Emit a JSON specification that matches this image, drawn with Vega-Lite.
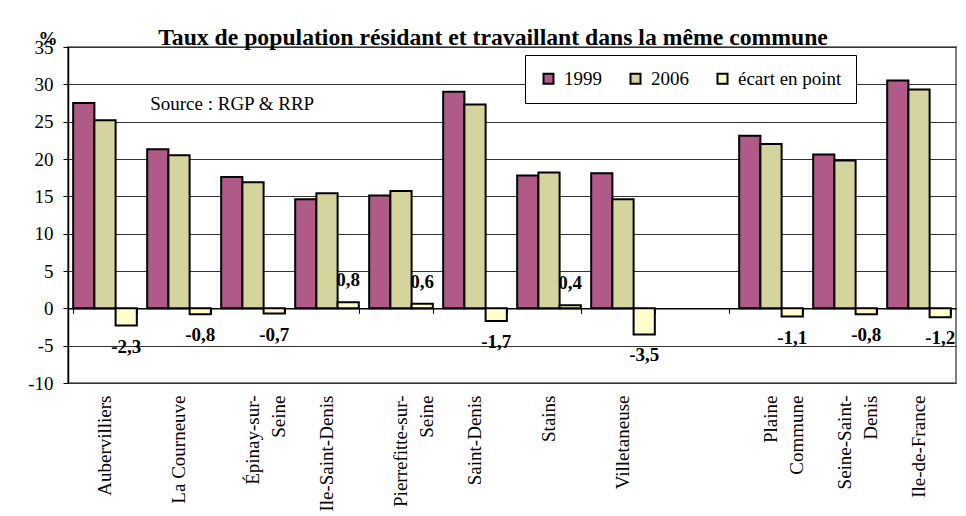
{
  "$schema": "https://vega.github.io/schema/vega-lite/v6.json",
  "width": 888,
  "height": 336,
  "autosize": {"type": "none"},
  "padding": {"left": 68, "top": 47, "right": 10, "bottom": 133},
  "background": "white",
  "title": {
    "text": "Taux de population résidant et travaillant dans la même commune",
    "font": "Liberation Serif", "fontSize": 23.7, "fontWeight": "bold", "color": "black",
    "anchor": "middle", "frame": "group", "dx": -19, "dy": 41, "offset": 1, "baseline": "alphabetic"
  },
  "config": {
    "font": "Liberation Serif",
    "view": {"stroke": "#808080", "strokeWidth": 2},
    "axisY": {"labelOverlap": false}
  },
  "data": {
    "values": [
      {"commune": "Aubervilliers", "serie": "1999", "value": 27.5},
      {"commune": "Aubervilliers", "serie": "2006", "value": 25.2},
      {"commune": "Aubervilliers", "serie": "écart en point", "value": -2.3},
      {"commune": "La Courneuve", "serie": "1999", "value": 21.3},
      {"commune": "La Courneuve", "serie": "2006", "value": 20.5},
      {"commune": "La Courneuve", "serie": "écart en point", "value": -0.8},
      {"commune": "Épinay-sur-Seine", "serie": "1999", "value": 17.6},
      {"commune": "Épinay-sur-Seine", "serie": "2006", "value": 16.9},
      {"commune": "Épinay-sur-Seine", "serie": "écart en point", "value": -0.7},
      {"commune": "Ile-Saint-Denis", "serie": "1999", "value": 14.6},
      {"commune": "Ile-Saint-Denis", "serie": "2006", "value": 15.4},
      {"commune": "Ile-Saint-Denis", "serie": "écart en point", "value": 0.8},
      {"commune": "Pierrefitte-sur-Seine", "serie": "1999", "value": 15.1},
      {"commune": "Pierrefitte-sur-Seine", "serie": "2006", "value": 15.7},
      {"commune": "Pierrefitte-sur-Seine", "serie": "écart en point", "value": 0.6},
      {"commune": "Saint-Denis", "serie": "1999", "value": 29.0},
      {"commune": "Saint-Denis", "serie": "2006", "value": 27.3},
      {"commune": "Saint-Denis", "serie": "écart en point", "value": -1.7},
      {"commune": "Stains", "serie": "1999", "value": 17.8},
      {"commune": "Stains", "serie": "2006", "value": 18.2},
      {"commune": "Stains", "serie": "écart en point", "value": 0.4},
      {"commune": "Villetaneuse", "serie": "1999", "value": 18.1},
      {"commune": "Villetaneuse", "serie": "2006", "value": 14.6},
      {"commune": "Villetaneuse", "serie": "écart en point", "value": -3.5},
      {"commune": "Plaine Commune", "serie": "1999", "value": 23.1},
      {"commune": "Plaine Commune", "serie": "2006", "value": 22.0},
      {"commune": "Plaine Commune", "serie": "écart en point", "value": -1.1},
      {"commune": "Seine-Saint-Denis", "serie": "1999", "value": 20.6},
      {"commune": "Seine-Saint-Denis", "serie": "2006", "value": 19.8},
      {"commune": "Seine-Saint-Denis", "serie": "écart en point", "value": -0.8},
      {"commune": "Ile-de-France", "serie": "1999", "value": 30.5},
      {"commune": "Ile-de-France", "serie": "2006", "value": 29.3},
      {"commune": "Ile-de-France", "serie": "écart en point", "value": -1.2}
    ]
  },
  "layer": [
    {
      "mark": {"type": "bar", "stroke": "black", "strokeWidth": 2},
      "encoding": {
        "x": {
          "field": "commune", "type": "nominal", "sort": null,
          "scale": {
            "domain": ["Aubervilliers", "La Courneuve", "Épinay-sur-Seine", "Ile-Saint-Denis", "Pierrefitte-sur-Seine", "Saint-Denis", "Stains", "Villetaneuse", " ", "Plaine Commune", "Seine-Saint-Denis", "Ile-de-France"],
            "paddingInner": 0.14, "paddingOuter": 0.07
          },
          "axis": {
            "orient": "bottom", "offset": -74.67, "title": null, "labels": false, "grid": false,
            "ticks": true, "tickBand": "extent", "tickSize": 5, "tickColor": "black", "tickWidth": 1,
            "domain": true, "domainColor": "black", "domainWidth": 1.5
          }
        },
        "xOffset": {
          "field": "serie", "type": "nominal",
          "scale": {"domain": ["1999", "2006", "écart en point"], "paddingInner": 0, "paddingOuter": 0}
        },
        "y": {
          "field": "value", "type": "quantitative",
          "scale": {"domain": [-10, 35], "nice": false, "zero": false},
          "axis": {
            "values": [-10, -5, 0, 5, 10, 15, 20, 25, 30, 35],
            "labelExpr": "'' + datum.value", "labelOverlap": false,
            "title": "%", "titleAngle": 0, "titleX": -30, "titleY": -3, "titleAlign": "left",
            "titleBaseline": "alphabetic", "titleFontWeight": "bold", "titleFontSize": 19, "titleColor": "black",
            "titleFont": "Liberation Serif",
            "labelFontSize": 19, "labelColor": "black", "labelFont": "Liberation Serif", "labelPadding": 10,
            "tickSize": 5, "tickColor": "black", "domainColor": "black", "domainWidth": 1.5,
            "grid": true, "gridColor": "#333333", "gridWidth": 1
          }
        },
        "color": {
          "field": "serie", "type": "nominal",
          "scale": {"domain": ["1999", "2006", "écart en point"], "range": ["#b05a88", "#d6d49e", "#ffffcc"]},
          "legend": {
            "orient": "none", "legendX": 457, "legendY": 8, "direction": "horizontal", "title": null,
            "fillColor": "white", "strokeColor": "black", "padding": 14, "columnPadding": 24,
            "labelFontSize": 19, "labelFont": "Liberation Serif", "labelColor": "black", "labelOffset": 6,
            "symbolType": "square", "symbolSize": 100, "symbolStrokeColor": "black", "symbolStrokeWidth": 2,
            "symbolOpacity": 1
          }
        }
      }
    },
    {
      "transform": [
        {"filter": "datum.serie == 'écart en point' && datum.value < 0"},
        {"calculate": "replace('' + datum.value, '.', ',')", "as": "label"}
      ],
      "mark": {"type": "text", "baseline": "middle", "dy": 21, "fontWeight": "bold", "fontSize": 19, "color": "black", "font": "Liberation Serif"},
      "encoding": {
        "x": {
          "field": "commune", "type": "nominal", "sort": null,
          "axis": {
            "orient": "bottom", "title": null, "labelAngle": -90, "labelAlign": "right", "labelBaseline": "middle",
            "labelPadding": 12, "ticks": false, "domain": false, "grid": false,
            "labelFontSize": 19, "labelFont": "Liberation Serif", "labelColor": "black", "labelLineHeight": 26,
            "labelOverlap": false, "labelLimit": 400, "labelFlush": false,
            "labelExpr": "datum.value == 'Épinay-sur-Seine' ? ['Épinay-sur-', 'Seine\u00a0\u00a0\u00a0\u00a0\u00a0'] : datum.value == 'Pierrefitte-sur-Seine' ? ['Pierrefitte-sur-', 'Seine\u00a0\u00a0\u00a0\u00a0\u00a0\u00a0\u00a0'] : datum.value == 'Plaine Commune' ? ['Plaine\u00a0\u00a0\u00a0\u00a0', 'Commune'] : datum.value == 'Seine-Saint-Denis' ? ['Seine-Saint-', 'Denis\u00a0\u00a0\u00a0\u00a0\u00a0'] : datum.label"
          }
        },
        "xOffset": {"field": "serie", "type": "nominal"},
        "y": {
          "field": "value", "type": "quantitative",
          "axis": {
            "values": [-10, -5, 0, 5, 10, 15, 20, 25, 30, 35],
            "labelExpr": "'' + datum.value", "labelOverlap": false,
            "title": "%", "titleAngle": 0, "titleX": -30, "titleY": -3, "titleAlign": "left",
            "titleBaseline": "alphabetic", "titleFontWeight": "bold", "titleFontSize": 19, "titleColor": "black",
            "titleFont": "Liberation Serif",
            "labelFontSize": 19, "labelColor": "black", "labelFont": "Liberation Serif", "labelPadding": 10,
            "tickSize": 5, "tickColor": "black", "domainColor": "black", "domainWidth": 1.5,
            "grid": true, "gridColor": "#333333", "gridWidth": 1
          }
        },
        "text": {"field": "label", "type": "nominal"}
      }
    },
    {
      "transform": [
        {"filter": "datum.serie == 'écart en point' && datum.value >= 0"},
        {"calculate": "replace('' + datum.value, '.', ',')", "as": "label"}
      ],
      "mark": {"type": "text", "baseline": "middle", "dy": -22, "fontWeight": "bold", "fontSize": 19, "color": "black", "font": "Liberation Serif"},
      "encoding": {
        "x": {"field": "commune", "type": "nominal", "sort": null, "axis": null},
        "xOffset": {"field": "serie", "type": "nominal"},
        "y": {
          "field": "value", "type": "quantitative",
          "axis": {
            "values": [-10, -5, 0, 5, 10, 15, 20, 25, 30, 35],
            "labelExpr": "'' + datum.value", "labelOverlap": false,
            "title": "%", "titleAngle": 0, "titleX": -30, "titleY": -3, "titleAlign": "left",
            "titleBaseline": "alphabetic", "titleFontWeight": "bold", "titleFontSize": 19, "titleColor": "black",
            "titleFont": "Liberation Serif",
            "labelFontSize": 19, "labelColor": "black", "labelFont": "Liberation Serif", "labelPadding": 10,
            "tickSize": 5, "tickColor": "black", "domainColor": "black", "domainWidth": 1.5,
            "grid": true, "gridColor": "#333333", "gridWidth": 1
          }
        },
        "text": {"field": "label", "type": "nominal"}
      }
    },
    {
      "data": {"values": [{"source": "Source : RGP & RRP"}]},
      "mark": {"type": "text", "align": "left", "baseline": "alphabetic", "dx": 3, "fontSize": 19, "color": "black", "font": "Liberation Serif"},
      "encoding": {
        "x": {"datum": "La Courneuve", "type": "nominal", "bandPosition": 0, "axis": null},
        "y": {
          "datum": 26.5, "type": "quantitative",
          "axis": {
            "values": [-10, -5, 0, 5, 10, 15, 20, 25, 30, 35],
            "labelExpr": "'' + datum.value", "labelOverlap": false,
            "title": "%", "titleAngle": 0, "titleX": -30, "titleY": -3, "titleAlign": "left",
            "titleBaseline": "alphabetic", "titleFontWeight": "bold", "titleFontSize": 19, "titleColor": "black",
            "titleFont": "Liberation Serif",
            "labelFontSize": 19, "labelColor": "black", "labelFont": "Liberation Serif", "labelPadding": 10,
            "tickSize": 5, "tickColor": "black", "domainColor": "black", "domainWidth": 1.5,
            "grid": true, "gridColor": "#333333", "gridWidth": 1
          }
        },
        "text": {"field": "source", "type": "nominal"}
      }
    }
  ],
  "resolve": {"axis": {"x": "independent"}}
}
